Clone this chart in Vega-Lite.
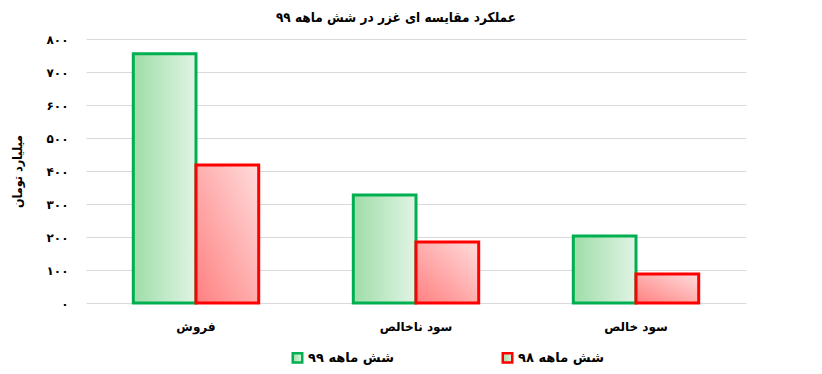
{
  "$schema": "https://vega.github.io/schema/vega-lite/v6.json",
  "width": 660,
  "height": 264,
  "autosize": {"type": "none"},
  "padding": {"left": 86, "top": 39, "right": 76, "bottom": 71},
  "background": "white",
  "title": {
    "text": "عملکرد مقایسه ای غزر در شش ماهه ۹۹",
    "font": "DejaVu Sans Condensed",
    "fontSize": 13.5,
    "fontWeight": "bold",
    "color": "#000000",
    "anchor": "middle",
    "dx": -20,
    "offset": 9
  },
  "data": {
    "values": [
      {"category": "فروش", "series": "شش ماهه ۹۹", "value": 755},
      {"category": "فروش", "series": "شش ماهه ۹۸", "value": 418},
      {"category": "سود ناخالص", "series": "شش ماهه ۹۹", "value": 327},
      {"category": "سود ناخالص", "series": "شش ماهه ۹۸", "value": 185},
      {"category": "سود خالص", "series": "شش ماهه ۹۹", "value": 203},
      {"category": "سود خالص", "series": "شش ماهه ۹۸", "value": 88}
    ]
  },
  "encoding": {
    "x": {
      "field": "category",
      "type": "nominal",
      "sort": ["فروش", "سود ناخالص", "سود خالص"],
      "scale": {"paddingInner": 0.43, "paddingOuter": 0.215},
      "axis": {
        "title": null,
        "labelAngle": 0,
        "domain": false,
        "ticks": false,
        "labelPadding": 18,
        "labelFont": "DejaVu Sans",
        "labelFontSize": 12,
        "labelFontWeight": "bold",
        "labelColor": "#000000"
      }
    },
    "xOffset": {
      "field": "series",
      "type": "nominal",
      "scale": {"domain": ["شش ماهه ۹۹", "شش ماهه ۹۸"], "paddingInner": 0, "paddingOuter": 0}
    },
    "y": {
      "field": "value",
      "type": "quantitative",
      "scale": {"domain": [0, 800], "nice": false},
      "axis": {
        "title": "میلیارد تومان",
        "titleFont": "DejaVu Sans Condensed",
        "titleFontSize": 12.5,
        "titleFontWeight": "bold",
        "titleColor": "#000000",
        "titlePadding": 22,
        "values": [0, 100, 200, 300, 400, 500, 600, 700, 800],
        "labelOverlap": false,
        "domain": false,
        "ticks": false,
        "labelPadding": 18,
        "gridColor": "#d9d9d9",
        "gridWidth": 1,
        "labelFont": "DejaVu Sans",
        "labelFontSize": 12,
        "labelFontWeight": "bold",
        "labelColor": "#000000",
        "labelExpr": "replace(replace(replace(replace(replace(replace(replace(replace(replace(datum.label, regexp('0','g'), '۰'), regexp('1','g'), '۱'), regexp('2','g'), '۲'), regexp('3','g'), '۳'), regexp('4','g'), '۴'), regexp('5','g'), '۵'), regexp('6','g'), '۶'), regexp('7','g'), '۷'), regexp('8','g'), '۸')"
      }
    },
    "stroke": {
      "field": "series",
      "type": "nominal",
      "scale": {"domain": ["شش ماهه ۹۹", "شش ماهه ۹۸"], "range": ["#00B050", "#FF0000"]},
      "legend": {
        "title": null,
        "orient": "none",
        "legendX": 205,
        "legendY": 312,
        "direction": "horizontal",
        "symbolType": "square",
        "symbolSize": 90,
        "symbolStrokeWidth": 2.5,
        "labelFont": "DejaVu Sans",
        "labelFontSize": 13,
        "labelFontWeight": "bold",
        "labelColor": "#000000",
        "columnPadding": 103,
        "encode": {
          "symbols": {
            "update": {
              "fill": {"signal": "datum.value === 'شش ماهه ۹۹' ? '#a8e2b0' : '#ffb3b3'"},
              "fillOpacity": {"value": 1}
            }
          }
        }
      }
    }
  },
  "layer": [
    {
      "transform": [{"filter": "datum.series === 'شش ماهه ۹۹'"}],
      "mark": {
        "type": "bar",
        "strokeWidth": 3,
        "fill": {
          "gradient": "linear",
          "x1": 0, "y1": 0, "x2": 1, "y2": 0,
          "stops": [
            {"offset": 0, "color": "#9edda8"},
            {"offset": 1, "color": "#e1f4e4"}
          ]
        }
      }
    },
    {
      "transform": [{"filter": "datum.series === 'شش ماهه ۹۸'"}],
      "mark": {
        "type": "bar",
        "strokeWidth": 3,
        "fill": {
          "gradient": "linear",
          "x1": 0, "y1": 1, "x2": 1, "y2": 0,
          "stops": [
            {"offset": 0, "color": "#ff8080"},
            {"offset": 1, "color": "#ffdcdc"}
          ]
        }
      }
    }
  ],
  "config": {
    "view": {"stroke": null}
  }
}
